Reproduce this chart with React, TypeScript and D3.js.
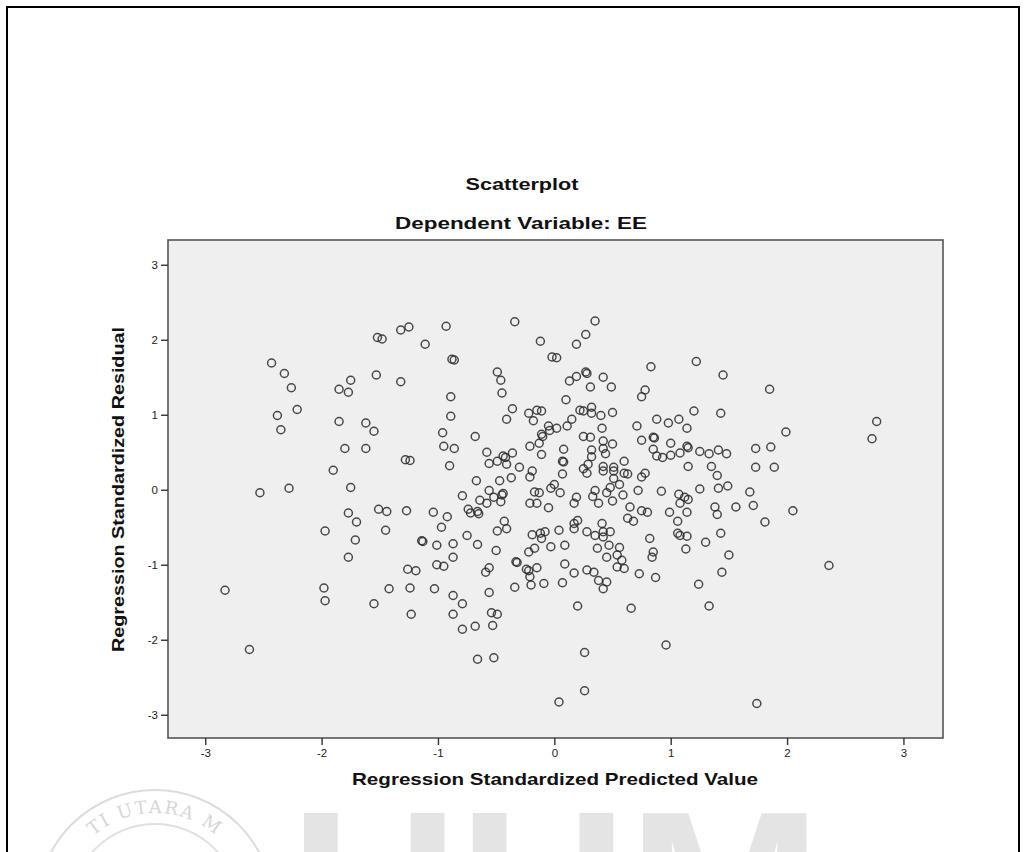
import React, { useEffect, useRef } from 'react';
import * as d3 from 'd3';

const chartTitle = 'Scatterplot';
const chartSubtitle = 'Dependent Variable: EE';
const xAxisTitle = 'Regression Standardized Predicted Value';
const yAxisTitle = 'Regression Standardized Residual';
const xTicks = [-3, -2, -1, 0, 1, 2, 3];
const yTicks = [-3, -2, -1, 0, 1, 2, 3];
const watermarkText = 'UUM';
const sealText = 'TI UTARA M';

// [standardized predicted value, standardized residual]
const points: [number, number][] = [
  [-2.43, 1.69], [-2.32, 1.55], [-2.26, 1.36], [-2.21, 1.07], [-2.38, 0.99], [-2.35, 0.8],
  [-1.85, 1.34], [-1.75, 1.46], [-1.77, 1.3], [-1.85, 0.91], [-1.62, 0.89], [-1.55, 0.78],
  [-1.8, 0.55], [-1.62, 0.55], [-1.9, 0.26], [-1.52, 2.03], [-1.48, 2.01], [-1.53, 1.53],
  [-1.32, 2.13], [-1.25, 2.17], [-1.32, 1.44], [-1.11, 1.94], [-1.28, 0.4], [-1.24, 0.39],
  [-2.53, -0.04], [-2.28, 0.02], [-1.75, 0.03], [-1.97, -0.55], [-1.77, -0.31], [-1.7, -0.43],
  [-1.71, -0.67], [-1.77, -0.9], [-1.51, -0.26], [-1.44, -0.29], [-1.45, -0.54], [-2.83, -1.34],
  [-1.98, -1.31], [-1.97, -1.48], [-1.55, -1.52], [-1.42, -1.32], [-2.62, -2.13], [-1.27, -0.28],
  [-1.14, -0.68], [-1.13, -0.69], [-1.26, -1.06], [-1.19, -1.08], [-1.24, -1.31], [-1.23, -1.66],
  [-0.79, -1.86], [-0.68, -1.82], [-0.66, -2.26], [-0.52, -2.24], [-0.53, -1.81], [0.26, -2.17],
  [0.26, -2.68], [0.04, -2.83], [0.96, -2.07],
  [-0.93, 2.18], [-0.34, 2.24], [-0.12, 1.98], [-0.02, 1.77], [0.02, 1.76], [0.19, 1.94],
  [-0.88, 1.74], [-0.86, 1.73], [-0.49, 1.57], [-0.46, 1.46], [-0.45, 1.29], [-0.89, 1.24],
  [-0.89, 0.98], [-0.36, 1.08], [-0.41, 0.94], [-0.22, 1.02], [-0.15, 1.06], [-0.11, 1.05],
  [-0.18, 0.92], [-0.05, 0.85], [-0.04, 0.79], [-0.1, 0.71], [-0.11, 0.74], [-0.13, 0.62],
  [-0.11, 0.47], [-0.21, 0.58], [0.02, 0.82], [0.1, 1.2], [0.13, 1.45], [0.19, 1.51],
  [0.11, 0.85], [0.15, 0.94], [-0.96, 0.76], [-0.95, 0.58], [-0.86, 0.55], [-0.68, 0.71],
  [-0.58, 0.5], [-0.9, 0.32], [0.08, 0.54], [0.07, 0.38], [0.08, 0.37], [-0.44, 0.45],
  [-0.42, 0.43], [-0.36, 0.49], [-0.49, 0.38], [-0.56, 0.35], [-0.41, 0.34], [-0.3, 0.3],
  [0.35, 2.25], [0.27, 2.07], [0.83, 1.64], [1.22, 1.71], [1.45, 1.53], [0.27, 1.57],
  [0.28, 1.55], [0.42, 1.5], [0.49, 1.37], [0.31, 1.37], [0.78, 1.33], [0.75, 1.24],
  [1.2, 1.05], [1.43, 1.02], [0.22, 1.06], [0.25, 1.05], [0.32, 1.1], [0.32, 1.02],
  [0.4, 0.99], [0.5, 1.03], [0.41, 0.82], [0.71, 0.85], [0.88, 0.94], [0.98, 0.89],
  [1.07, 0.94], [1.14, 0.82], [0.25, 0.71], [0.31, 0.7], [0.42, 0.65], [0.5, 0.61],
  [0.75, 0.66], [0.85, 0.7], [0.86, 0.69], [0.32, 0.53], [0.32, 0.44], [0.42, 0.55],
  [0.44, 0.48], [0.85, 0.54], [0.88, 0.45], [0.93, 0.43], [1.0, 0.62], [1.14, 0.58],
  [1.15, 0.56], [1.08, 0.49], [1.0, 0.46], [1.25, 0.51], [1.33, 0.48], [1.41, 0.53],
  [1.48, 0.48], [0.6, 0.38], [0.42, 0.31], [0.51, 0.3], [0.29, 0.34], [1.15, 0.31],
  [1.35, 0.31], [0.25, 0.28],
  [1.85, 1.34], [1.99, 0.77], [2.77, 0.91], [2.73, 0.68], [1.73, 0.55], [1.86, 0.57],
  [1.73, 0.3], [1.89, 0.3],
  [-0.67, 0.12], [-0.47, 0.12], [-0.37, 0.16], [-0.21, 0.17], [-0.19, 0.25], [0.07, 0.21],
  [-0.79, -0.08], [-0.56, -0.01], [-0.64, -0.14], [-0.58, -0.18], [-0.52, -0.1], [-0.45, -0.07],
  [-0.44, -0.05], [-0.46, -0.16], [-0.74, -0.26], [-0.72, -0.31], [-0.66, -0.29], [-0.65, -0.32],
  [-1.04, -0.3], [-0.92, -0.36], [-0.97, -0.5], [-0.75, -0.61], [-0.66, -0.73], [-0.43, -0.42],
  [-0.41, -0.52], [-0.49, -0.55], [-1.01, -0.74], [-0.87, -0.72], [-0.87, -0.9], [-0.5, -0.81],
  [-1.01, -1.0], [-0.95, -1.02], [-0.56, -1.04], [-0.59, -1.1], [-1.03, -1.32], [-0.87, -1.41],
  [-0.79, -1.52], [-0.87, -1.66], [-0.56, -1.37], [-0.54, -1.64], [-0.49, -1.66], [-0.34, -1.3],
  [-0.33, -0.96], [-0.32, -0.97], [-0.24, -1.06], [-0.22, -1.08], [-0.15, -1.04], [-0.21, -1.16],
  [-0.2, -1.27], [-0.09, -1.25], [-0.22, -0.83], [-0.17, -0.78], [-0.11, -0.65], [-0.12, -0.58],
  [-0.08, -0.56], [-0.19, -0.6], [-0.03, -0.76], [0.04, -0.54], [0.09, -0.74], [0.09, -0.99],
  [0.07, -1.24], [0.17, -1.11], [0.2, -1.55], [-0.21, -0.18], [-0.15, -0.18], [-0.17, -0.03],
  [-0.13, -0.04], [-0.05, -0.24], [-0.03, 0.02], [0.0, 0.07], [0.05, -0.04], [0.19, -0.1],
  [0.17, -0.18], [0.2, -0.41], [0.17, -0.45], [0.17, -0.52],
  [0.28, 0.22], [0.42, 0.25], [0.51, 0.25], [0.6, 0.22], [0.63, 0.21], [0.75, 0.17],
  [0.78, 0.22], [0.51, 0.15], [0.56, 0.07], [0.35, -0.01], [0.33, -0.09], [0.38, -0.18],
  [0.48, 0.03], [0.45, -0.04], [0.5, -0.15], [0.59, -0.07], [0.72, -0.01], [0.92, -0.02],
  [1.07, -0.06], [1.12, -0.1], [1.15, -0.13], [1.08, -0.18], [1.25, 0.01], [1.4, 0.19],
  [1.41, 0.02], [1.49, 0.05], [0.65, -0.23], [0.63, -0.38], [0.68, -0.42], [0.75, -0.28],
  [0.8, -0.3], [0.99, -0.3], [1.06, -0.42], [1.14, -0.3], [1.38, -0.23], [1.4, -0.33],
  [0.41, -0.45], [0.28, -0.56], [0.35, -0.61], [0.42, -0.56], [0.48, -0.56], [0.42, -0.63],
  [0.37, -0.78], [0.47, -0.74], [0.45, -0.9], [0.56, -0.77], [0.54, -0.87], [0.58, -0.94],
  [0.6, -1.05], [0.54, -1.03], [0.28, -1.07], [0.34, -1.1], [0.38, -1.21], [0.45, -1.23],
  [0.42, -1.32], [0.73, -1.12], [0.87, -1.17], [0.82, -0.65], [0.85, -0.83], [0.84, -0.9],
  [1.06, -0.58], [1.08, -0.61], [1.14, -0.62], [1.13, -0.79], [1.3, -0.7], [1.43, -0.58],
  [1.5, -0.87], [1.44, -1.1], [1.24, -1.26], [0.66, -1.58], [1.33, -1.55],
  [1.68, -0.03], [1.56, -0.23], [1.71, -0.21], [1.81, -0.43], [2.05, -0.28], [2.36, -1.01],
  [1.74, -2.85],
];

const FONT = "'Liberation Sans', Arial, sans-serif";

export default function App() {
  const ref = useRef<SVGSVGElement>(null);

  useEffect(() => {
    const svg = d3.select(ref.current);
    svg.selectAll('*').remove();

    const x = d3.scaleLinear().domain([-3.32, 3.34]).range([168, 943]);
    const y = d3.scaleLinear().domain([-3.31, 3.33]).range([738, 240]);

    svg.append('rect').attr('width', 1027).attr('height', 852).attr('fill', '#fff');

    // faint university watermark behind the chart (cut by the page bottom, like the scan)
    const wm = svg.append('g');
    wm.append('text')
      .attr('x', 556)
      .attr('y', 968)
      .attr('text-anchor', 'middle')
      .attr('textLength', 532)
      .attr('lengthAdjust', 'spacingAndGlyphs')
      .style('font-family', FONT)
      .style('font-weight', 700)
      .style('font-size', '225px')
      .style('fill', '#e4e4e4')
      .text(watermarkText);
    wm.append('circle').attr('cx', 155).attr('cy', 908).attr('r', 118)
      .attr('fill', 'none').attr('stroke', '#dcdcdc').attr('stroke-width', 2);
    wm.append('circle').attr('cx', 155).attr('cy', 908).attr('r', 84)
      .attr('fill', 'none').attr('stroke', '#e0e0e0').attr('stroke-width', 2);
    wm.append('path').attr('id', 'sealArc')
      .attr('d', 'M 60,908 A 95,95 0 0 1 250,908').attr('fill', 'none');
    wm.append('text')
      .style('font-family', "'DejaVu Serif', serif")
      .style('font-size', '18px')
      .style('fill', '#d6d6d6')
      .style('letter-spacing', '2px')
      .append('textPath')
      .attr('href', '#sealArc')
      .attr('startOffset', '50%')
      .attr('text-anchor', 'middle')
      .text(sealText);

    // outer picture border
    svg.append('path')
      .attr('d', 'M7,852 V7 H1019 V852')
      .attr('fill', 'none')
      .attr('stroke', '#000')
      .attr('stroke-width', 2);

    svg.append('rect')
      .attr('x', 168).attr('y', 240)
      .attr('width', 943 - 168).attr('height', 738 - 240)
      .attr('fill', '#efefef')
      .attr('stroke', '#555')
      .attr('stroke-width', 1.6);

    const xAxis = svg.append('g')
      .attr('transform', 'translate(0,738)')
      .call(d3.axisBottom(x).tickValues(xTicks).tickSize(7).tickPadding(4)
        .tickFormat((d) => String(d)));
    const yAxis = svg.append('g')
      .attr('transform', 'translate(168,0)')
      .call(d3.axisLeft(y).tickValues(yTicks).tickSize(7).tickPadding(3)
        .tickFormat((d) => String(d)));
    [xAxis, yAxis].forEach((a) => {
      a.select('.domain').remove();
      a.selectAll('line').attr('stroke', '#333').attr('stroke-width', 1.4);
      a.selectAll('text')
        .style('font-family', FONT)
        .style('font-size', '11.5px')
        .style('fill', '#222');
    });

    svg.append('g')
      .selectAll('circle')
      .data(points)
      .enter()
      .append('circle')
      .attr('cx', (d) => x(d[0]))
      .attr('cy', (d) => y(d[1]))
      .attr('r', 4)
      .attr('fill', 'none')
      .attr('stroke', '#2a2a2a')
      .attr('stroke-opacity', 0.85)
      .attr('stroke-width', 1.5);

    const title = (txt: string, tx: number, ty: number, len: number, rot = 0) =>
      svg.append('text')
        .attr('transform', `translate(${tx},${ty}) rotate(${rot})`)
        .attr('text-anchor', 'middle')
        .attr('textLength', len)
        .attr('lengthAdjust', 'spacingAndGlyphs')
        .style('font-family', FONT)
        .style('font-weight', 700)
        .style('font-size', '17px')
        .style('fill', '#111')
        .text(txt);

    title(chartTitle, 522, 190, 113);
    title(chartSubtitle, 521, 229, 252);
    title(xAxisTitle, 555, 785, 406);
    title(yAxisTitle, 124, 489.5, 325, -90);
  }, []);

  return (
    <svg
      ref={ref}
      width={1027}
      height={852}
      style={{ position: 'absolute', left: 0, top: 0 }}
    />
  );
}
